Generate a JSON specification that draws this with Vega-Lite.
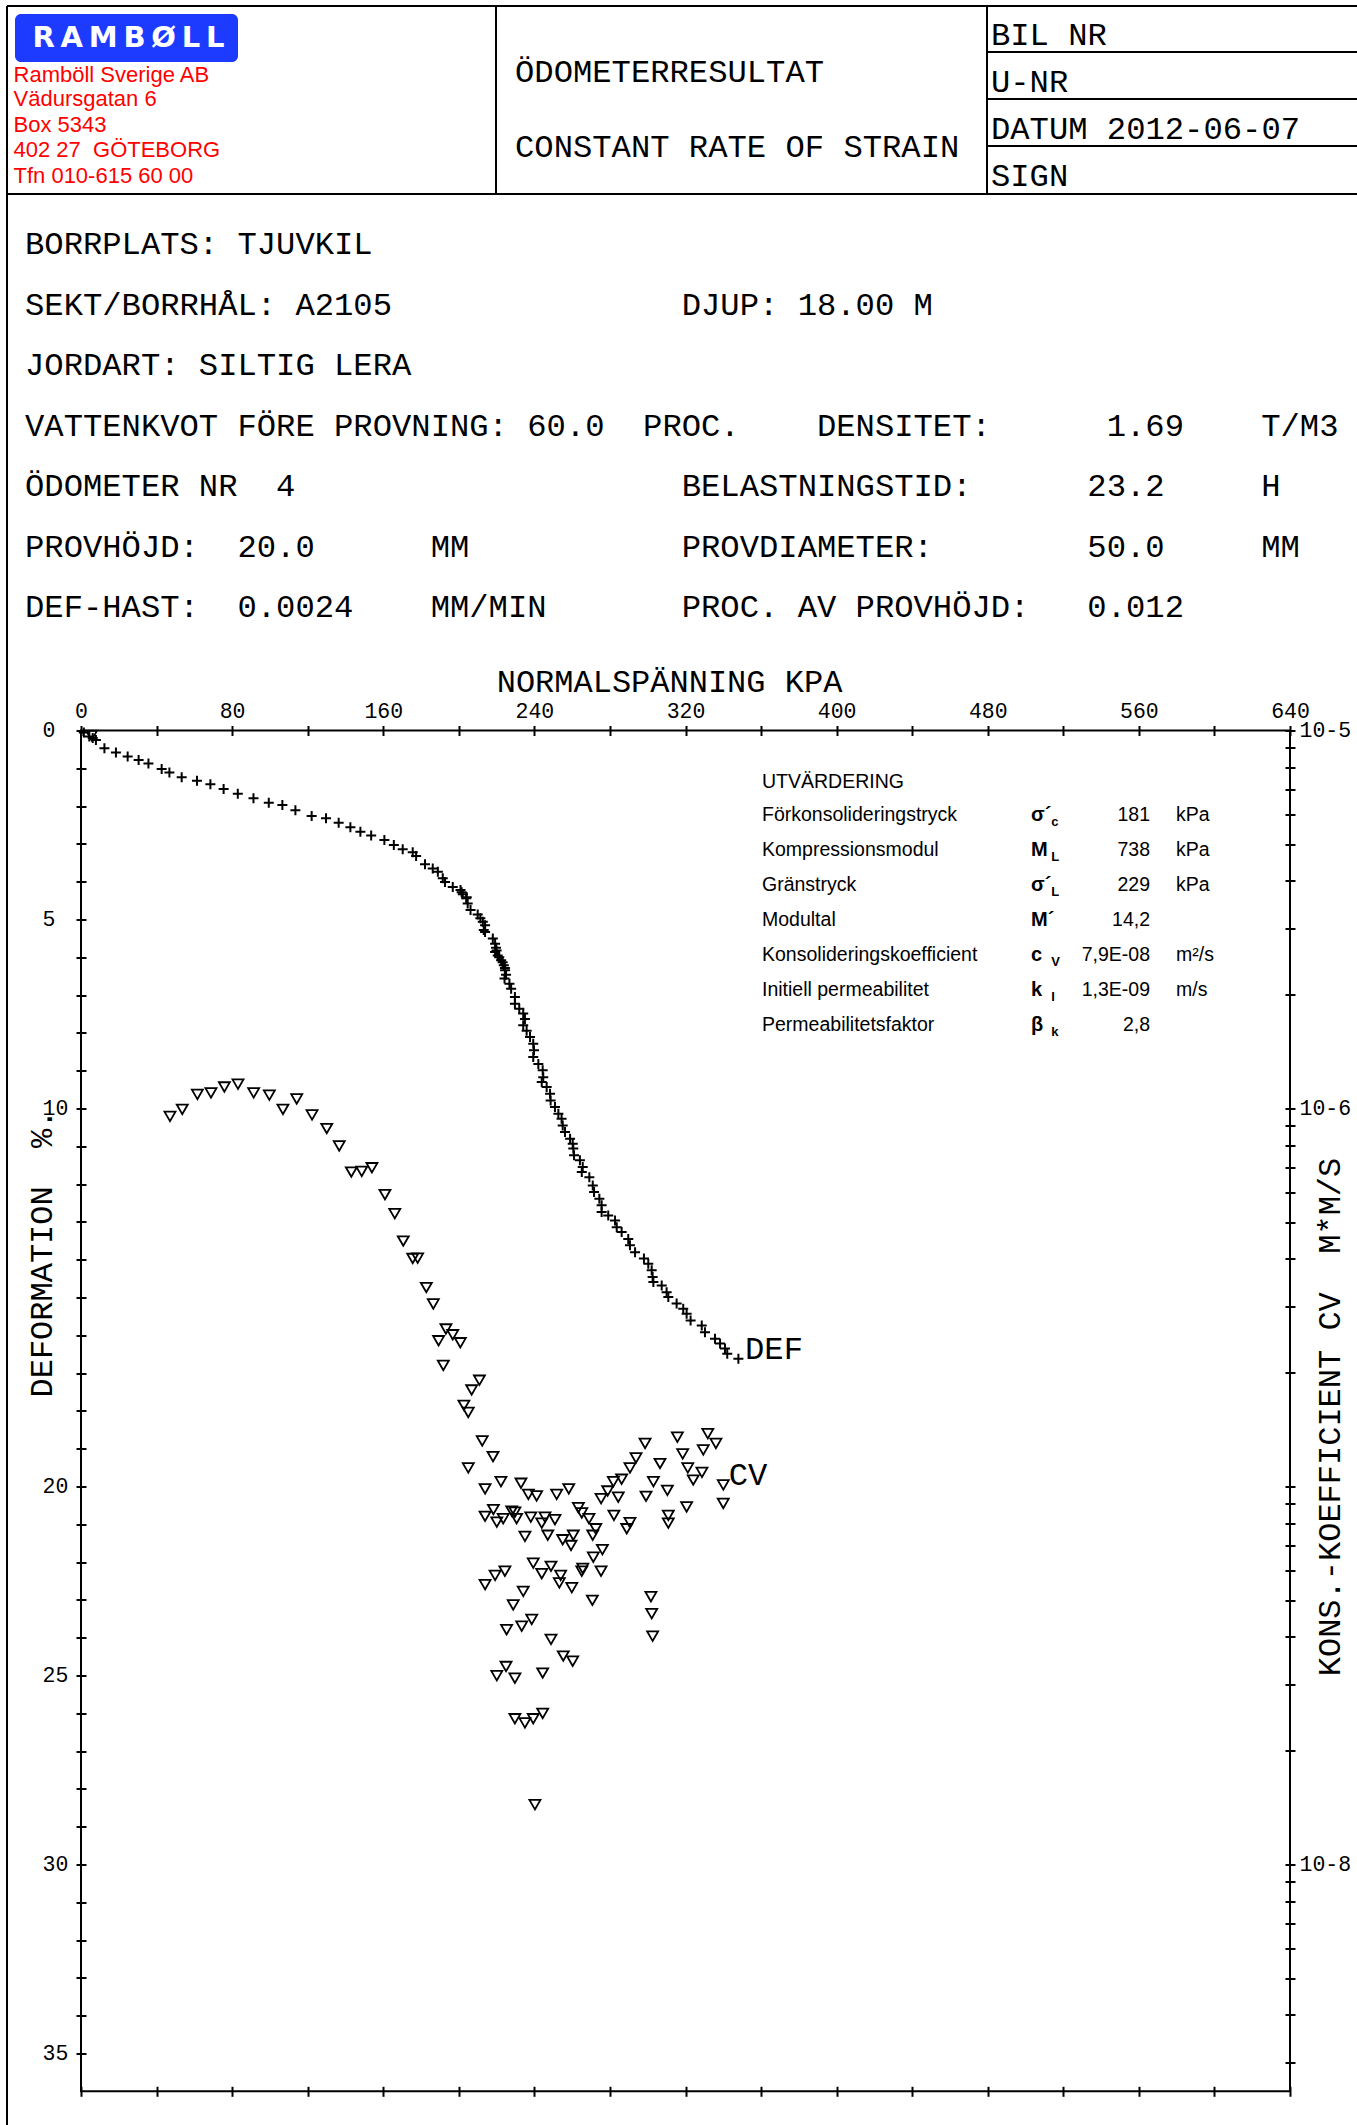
{
  "$schema": "https://vega.github.io/schema/vega-lite/v6.json",
  "width": 1209,
  "height": 1360.8,
  "padding": {"left": 81, "top": 730.5, "right": 67, "bottom": 33.7},
  "autosize": {"type": "none"},
  "background": "white",
  "config": {
    "view": {"stroke": "#000", "strokeWidth": 2},
    "axis": {"grid": false, "tickColor": "#000", "labelColor": "#000", "titleColor": "#000"}
  },
  "datasets": {
    "def": [
      {"kpa":1.5,"def":0.05},{"kpa":4.4,"def":0.16},{"kpa":6.2,"def":0.2},{"kpa":7.9,"def":0.25},{"kpa":12.4,"def":0.47},{"kpa":18.5,"def":0.58},{"kpa":24.7,"def":0.69},{"kpa":30.5,"def":0.78},{"kpa":35.7,"def":0.87},{"kpa":42.7,"def":1.02},{"kpa":46.8,"def":1.11},{"kpa":53.3,"def":1.24},{"kpa":61.4,"def":1.33},{"kpa":68.5,"def":1.42},{"kpa":75.5,"def":1.55},{"kpa":83.0,"def":1.67},{"kpa":91.3,"def":1.79},{"kpa":99.4,"def":1.91},{"kpa":106.6,"def":1.97},{"kpa":113.5,"def":2.11},{"kpa":122.1,"def":2.26},{"kpa":129.7,"def":2.32},{"kpa":136.4,"def":2.44},{"kpa":142.6,"def":2.56},{"kpa":147.9,"def":2.68},{"kpa":153.6,"def":2.78},{"kpa":160.6,"def":2.9},{"kpa":165.6,"def":3.03},{"kpa":170.3,"def":3.14},{"kpa":175.6,"def":3.22},{"kpa":177.4,"def":3.32},{"kpa":182.1,"def":3.54},{"kpa":186.2,"def":3.65},{"kpa":188.9,"def":3.74},{"kpa":191.5,"def":3.91},{"kpa":192.7,"def":4.01},{"kpa":196.8,"def":4.14},{"kpa":200.9,"def":4.22},{"kpa":201.5,"def":4.28},{"kpa":202.1,"def":4.33},{"kpa":204.2,"def":4.41},{"kpa":203.9,"def":4.44},{"kpa":204.7,"def":4.58},{"kpa":206.2,"def":4.75},{"kpa":210.0,"def":4.87},{"kpa":211.4,"def":4.97},{"kpa":212.7,"def":5.06},{"kpa":213.9,"def":5.15},{"kpa":213.2,"def":5.28},{"kpa":213.9,"def":5.33},{"kpa":218.0,"def":5.5},{"kpa":219.2,"def":5.64},{"kpa":219.7,"def":5.75},{"kpa":220.0,"def":5.82},{"kpa":219.2,"def":5.86},{"kpa":220.6,"def":5.95},{"kpa":221.4,"def":6.0},{"kpa":222.4,"def":6.08},{"kpa":223.2,"def":6.13},{"kpa":223.8,"def":6.21},{"kpa":224.4,"def":6.28},{"kpa":224.5,"def":6.34},{"kpa":225.0,"def":6.46},{"kpa":224.2,"def":6.56},{"kpa":226.8,"def":6.7},{"kpa":227.7,"def":6.83},
      {"kpa":229.7,"def":7.05},{"kpa":229.7,"def":7.23},{"kpa":232.0,"def":7.36},{"kpa":234.1,"def":7.49},{"kpa":235.0,"def":7.63},{"kpa":234.1,"def":7.8},{"kpa":235.9,"def":7.94},{"kpa":237.7,"def":8.11},{"kpa":239.4,"def":8.29},{"kpa":239.8,"def":8.46},{"kpa":239.4,"def":8.64},{"kpa":242.1,"def":8.82},{"kpa":244.4,"def":8.99},{"kpa":244.7,"def":9.17},{"kpa":243.9,"def":9.3},{"kpa":246.5,"def":9.43},{"kpa":248.3,"def":9.61},{"kpa":248.6,"def":9.79},{"kpa":250.9,"def":9.96},{"kpa":252.7,"def":10.14},{"kpa":254.4,"def":10.27},{"kpa":255.0,"def":10.45},{"kpa":256.2,"def":10.62},{"kpa":258.9,"def":10.8},{"kpa":260.3,"def":10.93},{"kpa":260.6,"def":11.06},{"kpa":261.0,"def":11.24},{"kpa":264.1,"def":11.37},{"kpa":265.6,"def":11.55},{"kpa":265.1,"def":11.68},{"kpa":269.1,"def":11.82},
      {"kpa":270.9,"def":12.04},{"kpa":271.6,"def":12.21},{"kpa":274.4,"def":12.39},{"kpa":275.6,"def":12.56},{"kpa":275.6,"def":12.74},{"kpa":279.1,"def":12.83},{"kpa":282.7,"def":12.96},{"kpa":283.6,"def":13.14},{"kpa":286.2,"def":13.27},{"kpa":289.7,"def":13.45},{"kpa":290.6,"def":13.62},{"kpa":293.3,"def":13.8},{"kpa":298.0,"def":13.97},{"kpa":300.3,"def":14.11},{"kpa":302.1,"def":14.28},{"kpa":302.6,"def":14.46},{"kpa":303.0,"def":14.59},{"kpa":307.4,"def":14.68},{"kpa":310.0,"def":14.86},{"kpa":310.9,"def":14.99},{"kpa":315.3,"def":15.16},{"kpa":318.8,"def":15.3},{"kpa":320.6,"def":15.43},{"kpa":322.7,"def":15.61},{"kpa":328.6,"def":15.74},{"kpa":330.3,"def":15.92},{"kpa":335.6,"def":16.09},{"kpa":338.3,"def":16.22},{"kpa":340.9,"def":16.35},{"kpa":342.1,"def":16.49},{"kpa":348.0,"def":16.62}
    ],
    "cv": [
      {"kpa":5.6,"cv":9.7e-6},
      {"kpa":47.1,"cv":9.53e-7},{"kpa":53.6,"cv":9.95e-7},{"kpa":61.6,"cv":1.09e-6},{"kpa":68.8,"cv":1.10e-6},{"kpa":75.9,"cv":1.14e-6},{"kpa":83.1,"cv":1.16e-6},{"kpa":91.4,"cv":1.10e-6},{"kpa":99.7,"cv":1.085e-6},{"kpa":106.9,"cv":9.95e-7},{"kpa":114.2,"cv":1.06e-6},{"kpa":122.3,"cv":9.62e-7},{"kpa":130.1,"cv":8.85e-7},{"kpa":136.7,"cv":7.96e-7},{"kpa":143.1,"cv":6.79e-7},{"kpa":148.6,"cv":6.82e-7},{"kpa":154.0,"cv":6.97e-7},{"kpa":160.9,"cv":5.92e-7},{"kpa":166.1,"cv":5.27e-7},{"kpa":170.6,"cv":4.46e-7},{"kpa":175.6,"cv":4.01e-7},{"kpa":178.2,"cv":4.02e-7},{"kpa":182.8,"cv":3.36e-7},{"kpa":186.5,"cv":3.04e-7},{"kpa":193.2,"cv":2.61e-7},{"kpa":196.8,"cv":2.52e-7},{"kpa":189.3,"cv":2.43e-7},{"kpa":200.8,"cv":2.40e-7},{"kpa":191.8,"cv":2.09e-7},{"kpa":210.9,"cv":1.91e-7},{"kpa":206.8,"cv":1.80e-7},{"kpa":202.7,"cv":1.64e-7},{"kpa":205.0,"cv":1.57e-7},{"kpa":212.4,"cv":1.32e-7},{"kpa":218.1,"cv":1.20e-7},{"kpa":205.0,"cv":1.12e-7},{"kpa":222.3,"cv":1.03e-7},{"kpa":232.9,"cv":1.02e-7},{"kpa":213.9,"cv":9.86e-8},
      {"kpa":236.8,"cv":9.53e-8},{"kpa":241.2,"cv":9.44e-8},{"kpa":251.8,"cv":9.53e-8},{"kpa":258.2,"cv":9.86e-8},{"kpa":218.3,"cv":8.69e-8},{"kpa":228.0,"cv":8.61e-8},{"kpa":229.7,"cv":8.55e-8},{"kpa":213.9,"cv":8.34e-8},{"kpa":220.1,"cv":8.05e-8},{"kpa":223.5,"cv":8.22e-8},{"kpa":230.6,"cv":8.22e-8},{"kpa":238.1,"cv":8.30e-8},{"kpa":243.9,"cv":8.00e-8},{"kpa":245.6,"cv":8.30e-8},{"kpa":250.9,"cv":8.17e-8},{"kpa":235.0,"cv":7.38e-8},{"kpa":247.1,"cv":7.43e-8},{"kpa":255.0,"cv":7.23e-8},{"kpa":260.6,"cv":7.43e-8},{"kpa":259.4,"cv":6.98e-8},{"kpa":263.3,"cv":8.79e-8},{"kpa":265.1,"cv":8.51e-8},{"kpa":268.9,"cv":8.22e-8},{"kpa":272.5,"cv":7.73e-8},{"kpa":270.9,"cv":7.43e-8},{"kpa":276.0,"cv":6.81e-8},{"kpa":271.2,"cv":6.50e-8},{"kpa":265.6,"cv":6.07e-8},{"kpa":265.1,"cv":5.97e-8},{"kpa":275.3,"cv":5.97e-8},{"kpa":239.4,"cv":6.27e-8},{"kpa":248.8,"cv":6.15e-8},{"kpa":243.9,"cv":5.88e-8},{"kpa":253.9,"cv":5.82e-8},{"kpa":253.2,"cv":5.56e-8},{"kpa":259.8,"cv":5.40e-8},{"kpa":224.4,"cv":5.97e-8},{"kpa":219.2,"cv":5.82e-8},{"kpa":213.9,"cv":5.50e-8},{"kpa":234.1,"cv":5.28e-8},{"kpa":228.8,"cv":4.86e-8},{"kpa":270.7,"cv":5.00e-8},{"kpa":275.3,"cv":9.29e-8},{"kpa":278.8,"cv":9.73e-8},{"kpa":281.8,"cv":1.03e-7},{"kpa":286.2,"cv":1.045e-7},{"kpa":284.4,"cv":9.37e-8},{"kpa":282.1,"cv":8.39e-8},{"kpa":288.9,"cv":7.73e-8},{"kpa":290.6,"cv":8.02e-8},{"kpa":290.6,"cv":1.12e-7},{"kpa":293.8,"cv":1.19e-7},{"kpa":298.6,"cv":1.30e-7},{"kpa":306.5,"cv":1.15e-7},{"kpa":303.0,"cv":1.03e-7},{"kpa":299.1,"cv":9.42e-8},{"kpa":310.4,"cv":9.77e-8},{"kpa":310.9,"cv":8.39e-8},{"kpa":310.9,"cv":8.00e-8},{"kpa":320.6,"cv":8.83e-8},{"kpa":315.7,"cv":1.35e-7},{"kpa":318.5,"cv":1.22e-7},{"kpa":321.2,"cv":1.12e-7},{"kpa":324.1,"cv":1.04e-7},{"kpa":328.7,"cv":1.09e-7},{"kpa":329.4,"cv":1.25e-7},{"kpa":331.8,"cv":1.38e-7},{"kpa":336.1,"cv":1.30e-7},{"kpa":340.0,"cv":1.01e-7},{"kpa":340.0,"cv":9.02e-8},{"kpa":301.7,"cv":5.11e-8},{"kpa":302.1,"cv":4.61e-8},{"kpa":302.6,"cv":4.02e-8},{"kpa":238.6,"cv":4.45e-8},{"kpa":233.3,"cv":4.27e-8},{"kpa":225.3,"cv":4.18e-8},{"kpa":248.8,"cv":3.94e-8},{"kpa":255.3,"cv":3.56e-8},{"kpa":260.3,"cv":3.45e-8},{"kpa":225.0,"cv":3.34e-8},{"kpa":220.1,"cv":3.16e-8},{"kpa":229.7,"cv":3.11e-8},{"kpa":244.4,"cv":3.21e-8},{"kpa":229.7,"cv":2.43e-8},{"kpa":235.0,"cv":2.37e-8},{"kpa":239.4,"cv":2.43e-8},{"kpa":244.4,"cv":2.51e-8},{"kpa":240.3,"cv":1.44e-8}
    ],
    "rules": [
      {"kpa":-39.17,"kpa2":676,"pct":-19.167,"pct2":-19.167},
      {"kpa":-39.17,"kpa2":676,"pct":-14.193,"pct2":-14.193},
      {"kpa":-39.17,"kpa2":-39.17,"pct":-19.167,"pct2":36.9},
      {"kpa":219.69,"kpa2":219.69,"pct":-19.167,"pct2":-14.193},
      {"kpa":479.6,"kpa2":479.6,"pct":-19.167,"pct2":-14.193},
      {"kpa":479.6,"kpa2":676,"pct":-17.95,"pct2":-17.95},
      {"kpa":479.6,"kpa2":676,"pct":-16.706,"pct2":-16.706},
      {"kpa":479.6,"kpa2":676,"pct":-15.463,"pct2":-15.463}
    ],
    "logo": [
      {"t":"R\u2009A\u2009M\u2009B\u2009Ø\u2009L\u2009L","kpa":-34.94,"kpa2":83.11,"pct":-18.955,"pct2":-17.685,"tk":25.14,"tp":-18.082}
    ],
    "addr": [
      {"t":"Ramböll Sverige AB","kpa":-35.73,"pct":-17.156},
      {"t":"Vädursgatan 6","kpa":-35.73,"pct":-16.521},
      {"t":"Box 5343","kpa":-35.73,"pct":-15.833},
      {"t":"402 27\u00a0\u00a0GÖTEBORG","kpa":-35.73,"pct":-15.172},
      {"t":"Tfn 010-615 60 00","kpa":-35.73,"pct":-14.484}
    ],
    "cad": [
      {"t":"ÖDOMETERRESULTAT","kpa":229.75,"pct":-17.156},
      {"t":"CONSTANT RATE OF STRAIN","kpa":229.75,"pct":-15.172},
      {"t":"BIL NR","kpa":481.7,"pct":-18.135},
      {"t":"U-NR","kpa":481.7,"pct":-16.892},
      {"t":"DATUM 2012-06-07","kpa":481.7,"pct":-15.648},
      {"t":"SIGN","kpa":481.7,"pct":-14.405},
      {"t":"BORRPLATS: TJUVKIL","kpa":-29.64,"pct":-12.605},
      {"t":"SEKT/BORRHÅL: A2105\u00a0\u00a0\u00a0\u00a0\u00a0\u00a0\u00a0\u00a0\u00a0\u00a0\u00a0\u00a0\u00a0\u00a0\u00a0DJUP: 18.00 M","kpa":-29.64,"pct":-10.991},
      {"t":"JORDART: SILTIG LERA","kpa":-29.64,"pct":-9.404},
      {"t":"VATTENKVOT FÖRE PROVNING: 60.0\u00a0\u00a0PROC.\u00a0\u00a0\u00a0\u00a0DENSITET:\u00a0\u00a0\u00a0\u00a0\u00a0\u00a01.69\u00a0\u00a0\u00a0\u00a0T/M3","kpa":-29.64,"pct":-7.79},
      {"t":"ÖDOMETER NR\u00a0\u00a04\u00a0\u00a0\u00a0\u00a0\u00a0\u00a0\u00a0\u00a0\u00a0\u00a0\u00a0\u00a0\u00a0\u00a0\u00a0\u00a0\u00a0\u00a0\u00a0\u00a0BELASTNINGSTID:\u00a0\u00a0\u00a0\u00a0\u00a0\u00a023.2\u00a0\u00a0\u00a0\u00a0\u00a0H","kpa":-29.64,"pct":-6.203},
      {"t":"PROVHÖJD:\u00a0\u00a020.0\u00a0\u00a0\u00a0\u00a0\u00a0\u00a0MM\u00a0\u00a0\u00a0\u00a0\u00a0\u00a0\u00a0\u00a0\u00a0\u00a0\u00a0PROVDIAMETER:\u00a0\u00a0\u00a0\u00a0\u00a0\u00a0\u00a0\u00a050.0\u00a0\u00a0\u00a0\u00a0\u00a0MM","kpa":-29.64,"pct":-4.589},
      {"t":"DEF-HAST:\u00a0\u00a00.0024\u00a0\u00a0\u00a0\u00a0MM/MIN\u00a0\u00a0\u00a0\u00a0\u00a0\u00a0\u00a0PROC. AV PROVHÖJD:\u00a0\u00a0\u00a00.012","kpa":-29.64,"pct":-3.002},
      {"t":"DEF","kpa":351.5,"pct":16.63},
      {"t":"CV","kpa":342.9,"pct":19.96}
    ],
    "table": [
      {"item":"UTVÄRDERING","sym":"","sub":"","val":"","unit":"","pct":1.529},
      {"item":"Förkonsolideringstryck","sym":"σ´","sub":"c","val":"181","unit":"kPa","pct":2.394},
      {"item":"Kompressionsmodul","sym":"M","sub":"L","val":"738","unit":"kPa","pct":3.333},
      {"item":"Gränstryck","sym":"σ´","sub":"L","val":"229","unit":"kPa","pct":4.233},
      {"item":"Modultal","sym":"M´","sub":"","val":"14,2","unit":"","pct":5.172},
      {"item":"Konsolideringskoefficient","sym":"c","sub":"V","val":"7,9E-08","unit":"m²/s","pct":6.085},
      {"item":"Initiell permeabilitet","sym":"k","sub":"I","val":"1,3E-09","unit":"m/s","pct":7.011},
      {"item":"Permeabilitetsfaktor","sym":"β","sub":"k","val":"2,8","unit":"","pct":7.95}
    ]
  },
  "layer": [
    {
      "data": {"name": "rules"},
      "mark": {"type": "rule", "stroke": "#000", "strokeWidth": 2},
      "encoding": {
        "x": {"field": "kpa", "type": "quantitative", "scale": {"domain": [0, 640], "nice": false, "zero": false},
          "axis": {"orient": "bottom", "values": [0,40,80,120,160,200,240,280,320,360,400,440,480,520,560,600,640], "domain": false, "offset": -5, "tickSize": 10, "tickWidth": 2, "tickColor": "#000", "labels": false, "title": null, "grid": false}},
        "x2": {"field": "kpa2"},
        "y": {"field": "pct", "type": "quantitative", "scale": {"domain": [0, 36], "reverse": true, "nice": false, "zero": false}, "axis": null},
        "y2": {"field": "pct2"}
      }
    },
    {
      "data": {"name": "logo"},
      "mark": {"type": "rect", "fill": "#1d3bff", "cornerRadius": 6},
      "encoding": {
        "x": {"field": "kpa", "type": "quantitative", "scale": {"domain": [0, 640], "nice": false, "zero": false}, "axis": null},
        "x2": {"field": "kpa2"},
        "y": {"field": "pct", "type": "quantitative", "scale": {"domain": [0, 36], "reverse": true, "nice": false, "zero": false}, "axis": null},
        "y2": {"field": "pct2"}
      }
    },
    {
      "data": {"name": "logo"},
      "mark": {"type": "text", "font": "DejaVu Sans", "fontWeight": "bold", "fontSize": 29, "color": "#ffffff", "align": "center", "baseline": "alphabetic"},
      "encoding": {
        "x": {"field": "tk", "type": "quantitative", "scale": {"domain": [0, 640], "nice": false, "zero": false}, "axis": null},
        "y": {"field": "tp", "type": "quantitative", "scale": {"domain": [0, 36], "reverse": true, "nice": false, "zero": false}, "axis": null},
        "text": {"field": "t"}
      }
    },
    {
      "data": {"name": "addr"},
      "mark": {"type": "text", "font": "Liberation Sans", "fontSize": 22, "color": "#ff0000", "align": "left", "baseline": "alphabetic"},
      "encoding": {
        "x": {"field": "kpa", "type": "quantitative", "scale": {"domain": [0, 640], "nice": false, "zero": false}, "axis": null},
        "y": {"field": "pct", "type": "quantitative", "scale": {"domain": [0, 36], "reverse": true, "nice": false, "zero": false}, "axis": null},
        "text": {"field": "t"}
      }
    },
    {
      "data": {"name": "cad"},
      "mark": {"type": "text", "font": "Liberation Mono", "fontSize": 32.2, "color": "#000", "align": "left", "baseline": "alphabetic"},
      "encoding": {
        "x": {"field": "kpa", "type": "quantitative", "scale": {"domain": [0, 640], "nice": false, "zero": false}, "axis": null},
        "y": {"field": "pct", "type": "quantitative", "scale": {"domain": [0, 36], "reverse": true, "nice": false, "zero": false}, "axis": null},
        "text": {"field": "t"}
      }
    },
    {
      "data": {"name": "table"},
      "mark": {"type": "text", "font": "Liberation Sans", "fontSize": 19.5, "color": "#000", "align": "left", "baseline": "alphabetic"},
      "encoding": {
        "x": {"datum": 360.5, "type": "quantitative", "scale": {"domain": [0, 640], "nice": false, "zero": false}, "axis": null},
        "y": {"field": "pct", "type": "quantitative", "scale": {"domain": [0, 36], "reverse": true, "nice": false, "zero": false}, "axis": null},
        "text": {"field": "item"}
      }
    },
    {
      "data": {"name": "table"},
      "mark": {"type": "text", "font": "Liberation Sans", "fontWeight": "bold", "fontSize": 20, "color": "#000", "align": "left", "baseline": "alphabetic"},
      "encoding": {
        "x": {"datum": 502.9, "type": "quantitative", "scale": {"domain": [0, 640], "nice": false, "zero": false}, "axis": null},
        "y": {"field": "pct", "type": "quantitative", "scale": {"domain": [0, 36], "reverse": true, "nice": false, "zero": false}, "axis": null},
        "text": {"field": "sym"}
      }
    },
    {
      "data": {"name": "table"},
      "mark": {"type": "text", "font": "Liberation Sans", "fontWeight": "bold", "fontSize": 13, "color": "#000", "align": "left", "baseline": "alphabetic", "dy": 5},
      "encoding": {
        "x": {"datum": 513.6, "type": "quantitative", "scale": {"domain": [0, 640], "nice": false, "zero": false}, "axis": null},
        "y": {"field": "pct", "type": "quantitative", "scale": {"domain": [0, 36], "reverse": true, "nice": false, "zero": false}, "axis": null},
        "text": {"field": "sub"}
      }
    },
    {
      "data": {"name": "table"},
      "mark": {"type": "text", "font": "Liberation Sans", "fontSize": 19.5, "color": "#000", "align": "right", "baseline": "alphabetic"},
      "encoding": {
        "x": {"datum": 565.9, "type": "quantitative", "scale": {"domain": [0, 640], "nice": false, "zero": false}, "axis": null},
        "y": {"field": "pct", "type": "quantitative", "scale": {"domain": [0, 36], "reverse": true, "nice": false, "zero": false}, "axis": null},
        "text": {"field": "val"}
      }
    },
    {
      "data": {"name": "table"},
      "mark": {"type": "text", "font": "Liberation Sans", "fontSize": 19.5, "color": "#000", "align": "left", "baseline": "alphabetic"},
      "encoding": {
        "x": {"datum": 579.7, "type": "quantitative", "scale": {"domain": [0, 640], "nice": false, "zero": false}, "axis": null},
        "y": {"field": "pct", "type": "quantitative", "scale": {"domain": [0, 36], "reverse": true, "nice": false, "zero": false}, "axis": null},
        "text": {"field": "unit"}
      }
    },
    {
      "data": {"name": "def"},
      "mark": {"type": "point", "shape": "M-1,0L1,0M0,-1L0,1", "size": 100, "filled": false, "stroke": "#000", "strokeWidth": 2, "opacity": 1},
      "encoding": {
        "x": {"field": "kpa", "type": "quantitative", "scale": {"domain": [0, 640], "nice": false, "zero": false},
          "axis": {"orient": "top", "values": [0,40,80,120,160,200,240,280,320,360,400,440,480,520,560,600,640], "domain": false, "offset": -5, "tickSize": 10, "tickWidth": 2, "tickColor": "#000", "grid": false, "labelFlush": false, "labelOverlap": false, "labelExpr": "datum.value % 80 === 0 ? datum.label : ''", "labelFont": "Liberation Mono", "labelFontSize": 21.5, "labelColor": "#000", "labelBaseline": "alphabetic", "labelPadding": 8.5, "title": "NORMALSPÄNNING KPA", "titleFont": "Liberation Mono", "titleFontSize": 32, "titleFontWeight": "normal", "titleColor": "#000", "titleX": 588, "titleY": -44.5, "titleAlign": "center", "titleBaseline": "alphabetic"}},
        "y": {"field": "def", "type": "quantitative", "scale": {"domain": [0, 36], "reverse": true, "nice": false, "zero": false},
          "axis": {"orient": "left", "values": [0,1,2,3,4,5,6,7,8,9,10,11,12,13,14,15,16,17,18,19,20,21,22,23,24,25,26,27,28,29,30,31,32,33,34,35], "domain": false, "offset": -5, "tickSize": 10, "tickWidth": 2, "tickColor": "#000", "grid": false, "labelFlush": false, "labelOverlap": false, "labelExpr": "datum.value % 5 === 0 && datum.value !== 15 ? datum.label : ''", "labelAlign": "left", "labelBaseline": "middle", "labelPadding": 34, "labelFont": "Liberation Mono", "labelFontSize": 21.5, "labelColor": "#000", "title": "DEFORMATION\u00a0\u00a0%.", "titleFont": "Liberation Mono", "titleFontSize": 32, "titleFontWeight": "normal", "titleColor": "#000", "titleAngle": -90, "titleX": -35, "titleY": 522.5, "titleAlign": "center", "titleBaseline": "alphabetic"}}
      }
    },
    {
      "data": {"name": "cv"},
      "mark": {"type": "point", "shape": "triangle-down", "size": 121, "filled": false, "stroke": "#000", "strokeWidth": 1.8, "opacity": 1},
      "encoding": {
        "x": {"field": "kpa", "type": "quantitative", "scale": {"domain": [0, 640], "nice": false, "zero": false}, "axis": null},
        "y": {"field": "cv", "type": "quantitative", "scale": {"type": "log", "domain": [2.5119e-9, 1e-5], "nice": false},
          "axis": {"orient": "right", "values": [1e-5,9e-6,8e-6,7e-6,6e-6,5e-6,4e-6,3e-6,2e-6,1e-6,9e-7,8e-7,7e-7,6e-7,5e-7,4e-7,3e-7,2e-7,1e-7,9e-8,8e-8,7e-8,6e-8,5e-8,4e-8,3e-8,2e-8,1e-8,9e-9,8e-9,7e-9,6e-9,5e-9,4e-9,3e-9], "domain": false, "offset": -5, "tickSize": 10, "tickWidth": 2, "tickColor": "#000", "grid": false, "labelFlush": false, "labelOverlap": false, "labelExpr": "abs(log(datum.value)/LN10+5)<0.01 ? '10-5' : abs(log(datum.value)/LN10+6)<0.01 ? '10-6' : abs(log(datum.value)/LN10+8)<0.01 ? '10-8' : ''", "labelAlign": "left", "labelBaseline": "middle", "labelPadding": 4, "labelFont": "Liberation Mono", "labelFontSize": 21.5, "labelColor": "#000", "title": "KONS.-KOEFFICIENT CV\u00a0\u00a0M*M/S", "titleFont": "Liberation Mono", "titleFontSize": 32, "titleFontWeight": "normal", "titleColor": "#000", "titleAngle": -90, "titleX": 54, "titleY": 686, "titleAlign": "center", "titleBaseline": "alphabetic"}}
      }
    }
  ],
  "resolve": {"scale": {"y": "independent"}, "axis": {"y": "independent"}}
}
